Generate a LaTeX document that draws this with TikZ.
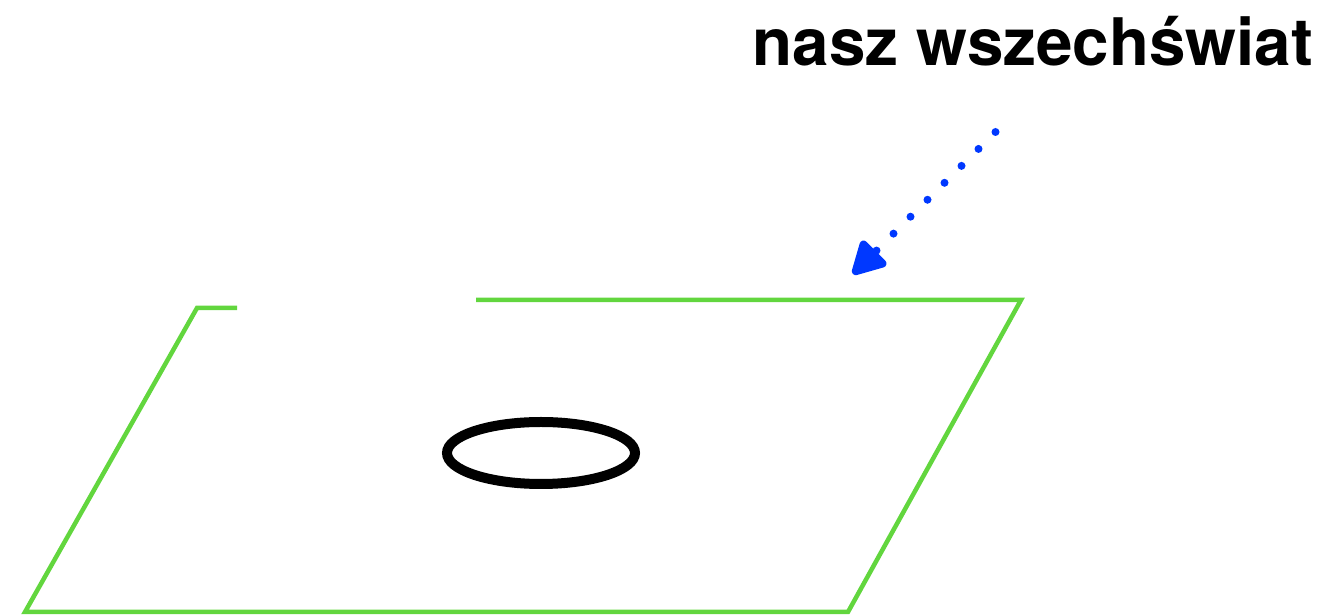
\documentclass[tikz,border=0pt]{standalone}
\usepackage{fontspec}
\setmainfont{TeX Gyre Heros}
\usetikzlibrary{arrows.meta}

\definecolor{planegreen}{RGB}{98,214,62}
\definecolor{arrowblue}{RGB}{0,56,255}

\begin{document}
\begin{tikzpicture}[
    plane/.style={draw=planegreen, line width=0.09cm, line join=miter},
    loop/.style={draw=black, line width=0.2cm},
    label/.style={font=\fontsize{37.3}{40}\selectfont\bfseries, inner sep=0pt},
    dotarr/.style={arrowblue, line width=0.16cm, line cap=round,
                   dash pattern=on 0pt off 0.48cm,
                   -{Triangle[length=0.74cm, width=0.76cm, round=false]}}
]
\useasboundingbox (0,0) rectangle (26.58,12.3);

% ============================================================
% label + pointer
% ============================================================
\node[label, anchor=base east] (title) at (26.27, 10.98) {nasz wszechświat};

\coordinate (from) at (19.91, 9.66);
\coordinate (to)   at (17.06, 6.82);
\draw[dotarr] (from) -- (to);

% ============================================================
% plane (open at the top left)
% ============================================================
\coordinate (stub) at (4.74, 6.14);
\coordinate (tl)   at (3.94, 6.14);
\coordinate (bl)   at (0.50, 0.06);
\coordinate (br)   at (16.96, 0.06);
\coordinate (tr)   at (20.42, 6.30);
\coordinate (gap)  at (9.52, 6.30);
\draw[plane] (stub) -- (tl) -- (bl) -- (br) -- (tr) -- (gap);

% loop on the plane
\draw[loop] (10.82, 3.24) ellipse [x radius=1.88, y radius=0.62];

\end{tikzpicture}
\end{document}
